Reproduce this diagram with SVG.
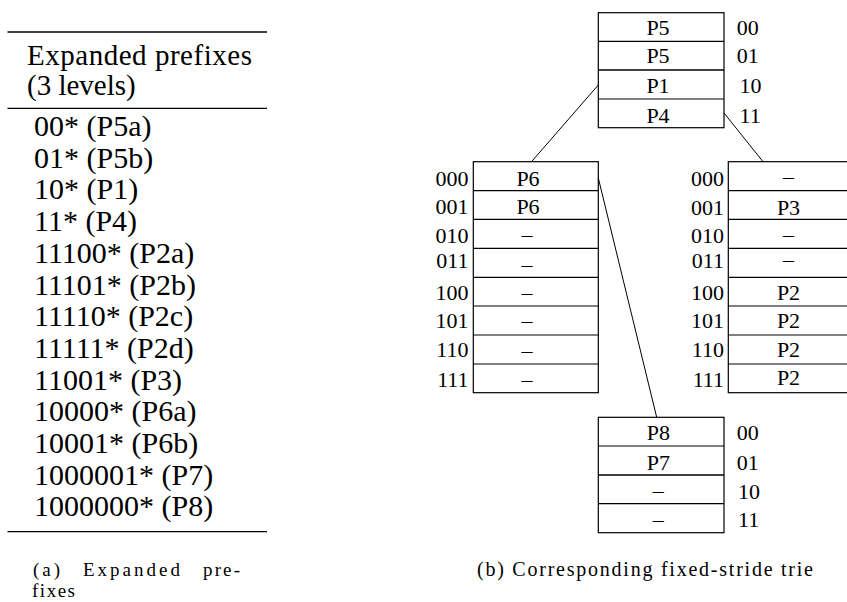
<svg xmlns="http://www.w3.org/2000/svg" width="847" height="602" viewBox="0 0 847 602">
<style>
.bg{fill:#fff}
.rule{stroke:#000;stroke-width:1.3}
.box{fill:none;stroke:#000;stroke-width:1.2}
.sep{stroke:#000;stroke-width:1.2}
.conn{stroke:#000;stroke-width:1;fill:none}
text{font-family:'Liberation Serif','Times New Roman','DejaVu Serif',serif;fill:#000}
.tbl{font-size:30px}
.hdr{font-size:29px}
.cell{font-size:22px;text-anchor:middle}
.lbl{font-size:22px}
.lblr{font-size:22px;text-anchor:end}
.cap{font-size:20px}
.capa{font-size:19px}
</style>
<rect class="bg" x="0" y="0" width="847" height="602"/>

<g id="prefix-table">
  <line class="rule" x1="7.5" y1="32" x2="267" y2="32"/>
  <text class="hdr" x="27" y="65" textLength="225">Expanded prefixes</text>
  <text class="hdr" x="27" y="95">(3 levels)</text>
  <line class="rule" x1="7.5" y1="108.3" x2="267" y2="108.3"/>
  <text class="tbl" x="34" y="136">00* (P5a)</text>
  <text class="tbl" x="34" y="167.7">01* (P5b)</text>
  <text class="tbl" x="34" y="199.4">10* (P1)</text>
  <text class="tbl" x="34" y="231.1">11* (P4)</text>
  <text class="tbl" x="34" y="262.8">11100* (P2a)</text>
  <text class="tbl" x="34" y="294.5">11101* (P2b)</text>
  <text class="tbl" x="34" y="326.2">11110* (P2c)</text>
  <text class="tbl" x="34" y="357.9">11111* (P2d)</text>
  <text class="tbl" x="34" y="389.6">11001* (P3)</text>
  <text class="tbl" x="34" y="421.3">10000* (P6a)</text>
  <text class="tbl" x="34" y="453">10001* (P6b)</text>
  <text class="tbl" x="34" y="484.7">1000001* (P7)</text>
  <text class="tbl" x="34" y="516.4">1000000* (P8)</text>
  <line class="rule" x1="7.5" y1="531.7" x2="267" y2="531.7"/>
</g>

<g id="caption-a">
  <text class="capa" x="33" y="576" textLength="27">(a)</text>
  <text class="capa" x="83" y="576" textLength="97">Expanded</text>
  <text class="capa" x="203" y="576" textLength="37">pre-</text>
  <text class="capa" x="32" y="597" textLength="43">fixes</text>
</g>

<g id="connectors">
  <line class="conn" x1="598.3" y1="85" x2="531.5" y2="161.7"/>
  <line class="conn" x1="724" y1="113" x2="763" y2="161.7"/>
  <line class="conn" x1="598.3" y1="178" x2="656.7" y2="417.3"/>
</g>

<g id="node-root">
  <rect class="box" x="598.3" y="12.7" width="125.7" height="115"/>
  <line class="sep" x1="598.3" y1="41.3" x2="724" y2="41.3"/>
  <line class="sep" x1="598.3" y1="70" x2="724" y2="70" style="stroke-width:1.6"/>
  <line class="sep" x1="598.3" y1="99" x2="724" y2="99"/>
  <text class="cell" x="658" y="35">P5</text>
  <text class="cell" x="658" y="63.3">P5</text>
  <text class="cell" x="658" y="93.3">P1</text>
  <text class="cell" x="658" y="122.7">P4</text>
  <text class="lbl" x="736.7" y="35">00</text>
  <text class="lbl" x="736.7" y="63.3">01</text>
  <text class="lbl" x="739.5" y="93.3">10</text>
  <text class="lbl" x="739.5" y="122.7">11</text>
</g>

<g id="node-left">
  <rect class="box" x="473.3" y="161.7" width="125" height="231"/>
  <line class="sep" x1="473.3" y1="190.7" x2="598.3" y2="190.7"/>
  <line class="sep" x1="473.3" y1="219.3" x2="598.3" y2="219.3"/>
  <line class="sep" x1="473.3" y1="248.3" x2="598.3" y2="248.3"/>
  <line class="sep" x1="473.3" y1="277.3" x2="598.3" y2="277.3"/>
  <line class="sep" x1="473.3" y1="306" x2="598.3" y2="306"/>
  <line class="sep" x1="473.3" y1="335" x2="598.3" y2="335"/>
  <line class="sep" x1="473.3" y1="364" x2="598.3" y2="364"/>
  <text class="cell" x="528" y="186">P6</text>
  <text class="cell" x="528" y="214">P6</text>
  <text class="cell" x="527" y="242.3">–</text>
  <text class="cell" x="527" y="271.7">–</text>
  <text class="cell" x="527" y="300">–</text>
  <text class="cell" x="527" y="328.3">–</text>
  <text class="cell" x="527" y="357.7">–</text>
  <text class="cell" x="527" y="386.7">–</text>
  <text class="lblr" x="468.5" y="186">000</text>
  <text class="lblr" x="468.5" y="214">001</text>
  <text class="lblr" x="468.5" y="243.3">010</text>
  <text class="lblr" x="468.5" y="268.3">011</text>
  <text class="lblr" x="468.5" y="300">100</text>
  <text class="lblr" x="468.5" y="328.3">101</text>
  <text class="lblr" x="468.5" y="356.7">110</text>
  <text class="lblr" x="468.5" y="386.7">111</text>
</g>

<g id="node-right">
  <rect class="box" x="728.3" y="161.7" width="125" height="231"/>
  <line class="sep" x1="728.3" y1="190.7" x2="853.3" y2="190.7"/>
  <line class="sep" x1="728.3" y1="219.3" x2="853.3" y2="219.3"/>
  <line class="sep" x1="728.3" y1="248.3" x2="853.3" y2="248.3"/>
  <line class="sep" x1="728.3" y1="277.3" x2="853.3" y2="277.3"/>
  <line class="sep" x1="728.3" y1="306" x2="853.3" y2="306"/>
  <line class="sep" x1="728.3" y1="335" x2="853.3" y2="335"/>
  <line class="sep" x1="728.3" y1="364" x2="853.3" y2="364"/>
  <text class="cell" x="788.5" y="184.3">–</text>
  <text class="cell" x="788.5" y="215">P3</text>
  <text class="cell" x="788.5" y="242.3">–</text>
  <text class="cell" x="788.5" y="266.7">–</text>
  <text class="cell" x="788.5" y="300">P2</text>
  <text class="cell" x="788.5" y="328.3">P2</text>
  <text class="cell" x="788.5" y="356.7">P2</text>
  <text class="cell" x="788.5" y="385">P2</text>
  <text class="lblr" x="724" y="186">000</text>
  <text class="lblr" x="724" y="215">001</text>
  <text class="lblr" x="724" y="243.3">010</text>
  <text class="lblr" x="724" y="268.3">011</text>
  <text class="lblr" x="724" y="300">100</text>
  <text class="lblr" x="724" y="328.3">101</text>
  <text class="lblr" x="724" y="356.7">110</text>
  <text class="lblr" x="724" y="386.7">111</text>
</g>

<g id="node-bottom">
  <rect class="box" x="598.3" y="417.3" width="125.7" height="115.4"/>
  <line class="sep" x1="598.3" y1="446" x2="724" y2="446"/>
  <line class="sep" x1="598.3" y1="475" x2="724" y2="475" style="stroke-width:1.6"/>
  <line class="sep" x1="598.3" y1="503.7" x2="724" y2="503.7"/>
  <text class="cell" x="658.3" y="440">P8</text>
  <text class="cell" x="658.3" y="470">P7</text>
  <text class="cell" x="658.3" y="498.3">–</text>
  <text class="cell" x="658.3" y="526.7">–</text>
  <text class="lbl" x="736.7" y="440">00</text>
  <text class="lbl" x="736.7" y="470">01</text>
  <text class="lbl" x="738" y="499.3">10</text>
  <text class="lbl" x="738" y="527.3">11</text>
</g>

<g id="caption-b">
  <text class="cap" x="477" y="576" textLength="336">(b) Corresponding fixed-stride trie</text>
</g>
</svg>
